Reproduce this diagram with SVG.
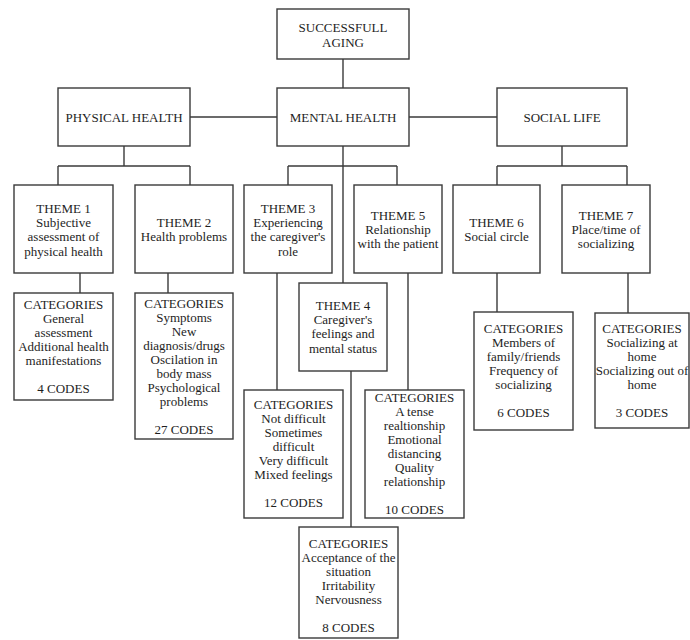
<svg xmlns="http://www.w3.org/2000/svg" width="690" height="640" viewBox="0 0 690 640">
<style>
.b{fill:#fff;stroke:#3a3a3a;stroke-width:1.4}
.c line{stroke:#3a3a3a;stroke-width:1.4}
text{font-family:"Liberation Serif","Times New Roman",serif;font-size:13px;fill:#1e1e1e;text-anchor:middle}
</style>
<rect width="690" height="640" fill="#fff"/>
<g id="connectors" class="c">
<line x1="343" y1="59" x2="343" y2="88"/>
<line x1="190" y1="117" x2="277" y2="117"/>
<line x1="409" y1="117" x2="497" y2="117"/>
<line x1="124" y1="146" x2="124" y2="166"/>
<line x1="58" y1="166" x2="190" y2="166"/>
<line x1="58" y1="166" x2="58" y2="185"/>
<line x1="190" y1="166" x2="190" y2="185"/>
<line x1="343" y1="146" x2="343" y2="283"/>
<line x1="288" y1="166" x2="397" y2="166"/>
<line x1="288" y1="166" x2="288" y2="185"/>
<line x1="397" y1="166" x2="397" y2="185"/>
<line x1="562" y1="146" x2="562" y2="166"/>
<line x1="497" y1="166" x2="627" y2="166"/>
<line x1="497" y1="166" x2="497" y2="185"/>
<line x1="627" y1="166" x2="627" y2="185"/>
<line x1="80" y1="273" x2="80" y2="293"/>
<line x1="168" y1="273" x2="168" y2="293"/>
<line x1="277" y1="273" x2="277" y2="390"/>
<line x1="408" y1="273" x2="408" y2="390"/>
<line x1="497" y1="273" x2="497" y2="312"/>
<line x1="628" y1="273" x2="628" y2="313"/>
<line x1="351" y1="371" x2="351" y2="527"/>
</g>
<g id="successful-aging"><rect class="b" x="277" y="9" width="132" height="50"/>
<text x="343" y="31.5">SUCCESSFULL<tspan x="343" dy="15">AGING</tspan></text></g>
<g id="physical-health"><rect class="b" x="58" y="88" width="132" height="58"/>
<text x="124" y="121.5">PHYSICAL HEALTH</text></g>
<g id="mental-health"><rect class="b" x="277" y="88" width="132" height="58"/>
<text x="343" y="121.5">MENTAL HEALTH</text></g>
<g id="social-life"><rect class="b" x="497" y="88" width="130" height="58"/>
<text x="562" y="121.5">SOCIAL LIFE</text></g>
<g id="theme1"><rect class="b" x="14" y="185" width="99" height="88"/>
<text x="63.5" y="212.5">THEME 1<tspan x="63.5" dy="14.4">Subjective</tspan><tspan x="63.5" dy="14.4">assessment of</tspan><tspan x="63.5" dy="14.4">physical health</tspan></text></g>
<g id="theme2"><rect class="b" x="135" y="185" width="98" height="88"/>
<text x="184" y="226.5">THEME 2<tspan x="184" dy="14.4">Health problems</tspan></text></g>
<g id="theme3"><rect class="b" x="244" y="185" width="88" height="88"/>
<text x="288" y="212.5">THEME 3<tspan x="288" dy="14.4">Experiencing</tspan><tspan x="288" dy="14.4">the caregiver's</tspan><tspan x="288" dy="14.4">role</tspan></text></g>
<g id="theme4"><rect class="b" x="299" y="283" width="88" height="88"/>
<text x="343" y="309.5">THEME 4<tspan x="343" dy="14.4">Caregiver's</tspan><tspan x="343" dy="14.4">feelings and</tspan><tspan x="343" dy="14.4">mental status</tspan></text></g>
<g id="theme5"><rect class="b" x="354" y="185" width="88" height="88"/>
<text x="398" y="219.5">THEME 5<tspan x="398" dy="14.4">Relationship</tspan><tspan x="398" dy="14.4">with the patient</tspan></text></g>
<g id="theme6"><rect class="b" x="453" y="185" width="87" height="88"/>
<text x="496.5" y="226.5">THEME 6<tspan x="496.5" dy="14.4">Social circle</tspan></text></g>
<g id="theme7"><rect class="b" x="562" y="185" width="88" height="88"/>
<text x="606" y="219.5">THEME 7<tspan x="606" dy="14.4">Place/time of</tspan><tspan x="606" dy="14.4">socializing</tspan></text></g>
<g id="categories1"><rect class="b" x="14" y="293" width="99" height="107"/>
<text x="63.5" y="308.5">CATEGORIES<tspan x="63.5" dy="14">General</tspan><tspan x="63.5" dy="14">assessment</tspan><tspan x="63.5" dy="14">Additional health</tspan><tspan x="63.5" dy="14">manifestations</tspan><tspan x="63.5" dy="28">4 CODES</tspan></text></g>
<g id="categories2"><rect class="b" x="135" y="293" width="98" height="146"/>
<text x="184" y="307.5">CATEGORIES<tspan x="184" dy="14">Symptoms</tspan><tspan x="184" dy="14">New</tspan><tspan x="184" dy="14">diagnosis/drugs</tspan><tspan x="184" dy="14">Oscilation in</tspan><tspan x="184" dy="14">body mass</tspan><tspan x="184" dy="14">Psychological</tspan><tspan x="184" dy="14">problems</tspan><tspan x="184" dy="28">27 CODES</tspan></text></g>
<g id="categories3"><rect class="b" x="244" y="390" width="99" height="128"/>
<text x="293.5" y="408.5">CATEGORIES<tspan x="293.5" dy="14">Not difficult</tspan><tspan x="293.5" dy="14">Sometimes</tspan><tspan x="293.5" dy="14">difficult</tspan><tspan x="293.5" dy="14">Very difficult</tspan><tspan x="293.5" dy="14">Mixed feelings</tspan><tspan x="293.5" dy="28">12 CODES</tspan></text></g>
<g id="categories5"><rect class="b" x="365" y="390" width="99" height="128"/>
<text x="414.5" y="401.5">CATEGORIES<tspan x="414.5" dy="14">A tense</tspan><tspan x="414.5" dy="14">realtionship</tspan><tspan x="414.5" dy="14">Emotional</tspan><tspan x="414.5" dy="14">distancing</tspan><tspan x="414.5" dy="14">Quality</tspan><tspan x="414.5" dy="14">relationship</tspan><tspan x="414.5" dy="28">10 CODES</tspan></text></g>
<g id="categories6"><rect class="b" x="474" y="312" width="99" height="118"/>
<text x="523.5" y="332.5">CATEGORIES<tspan x="523.5" dy="14">Members of</tspan><tspan x="523.5" dy="14">family/friends</tspan><tspan x="523.5" dy="14">Frequency of</tspan><tspan x="523.5" dy="14">socializing</tspan><tspan x="523.5" dy="28">6 CODES</tspan></text></g>
<g id="categories7"><rect class="b" x="595" y="313" width="94" height="115"/>
<text x="642" y="332.5">CATEGORIES<tspan x="642" dy="14">Socializing at</tspan><tspan x="642" dy="14">home</tspan><tspan x="642" dy="14">Socializing out of</tspan><tspan x="642" dy="14">home</tspan><tspan x="642" dy="28">3 CODES</tspan></text></g>
<g id="categories4"><rect class="b" x="299" y="527" width="99" height="111"/>
<text x="348.5" y="547.5">CATEGORIES<tspan x="348.5" dy="14">Acceptance of the</tspan><tspan x="348.5" dy="14">situation</tspan><tspan x="348.5" dy="14">Irritability</tspan><tspan x="348.5" dy="14">Nervousness</tspan><tspan x="348.5" dy="28">8 CODES</tspan></text></g>
</svg>
